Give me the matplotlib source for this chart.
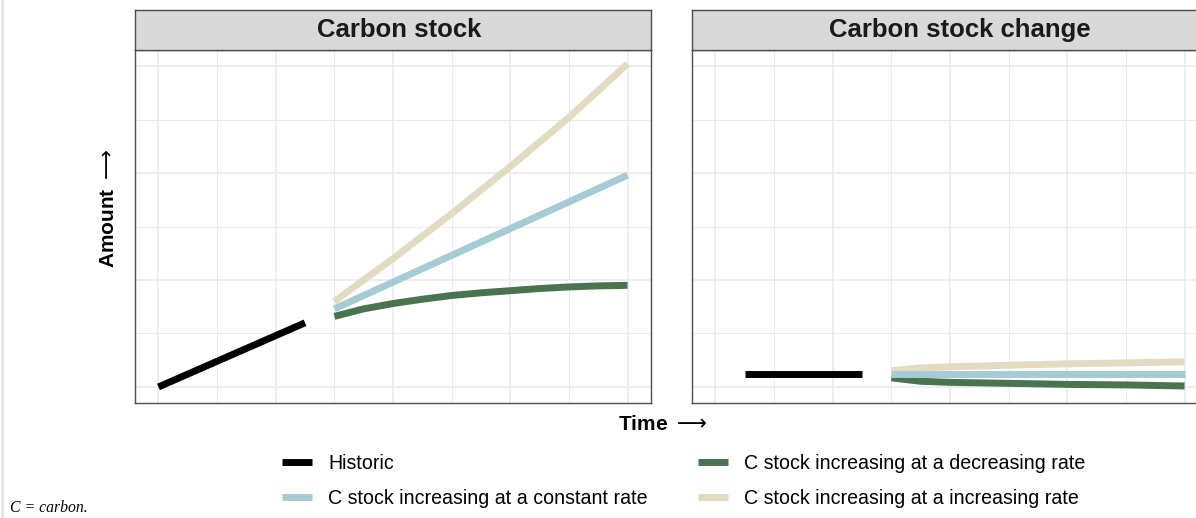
import matplotlib.pyplot as plt
from matplotlib.lines import Line2D

plt.rcParams['font.family'] = ['Liberation Sans', 'DejaVu Sans']

# ---------------- data ----------------
time_hist = [0, 2.5]
stock_hist = [0.0, 0.6]

time_future = [3, 3.5, 4, 4.5, 5, 5.5, 6, 6.5, 7, 7.5, 8]
stock_constant = [0.73, 0.855, 0.98, 1.105, 1.23, 1.355, 1.48, 1.605, 1.73, 1.855, 1.98]
stock_decreasing = [0.66, 0.73, 0.78, 0.82, 0.855, 0.88, 0.90, 0.92, 0.935, 0.945, 0.95]
stock_increasing = [0.80, 1.00, 1.20, 1.41, 1.62, 1.84, 2.06, 2.29, 2.52, 2.77, 3.02]

time_change_hist = [0.5, 2.5]
change_hist = [0.118, 0.118]

time_change = [3, 3.5, 4, 5, 6, 7, 8]
change_constant = [0.118, 0.118, 0.118, 0.118, 0.118, 0.118, 0.118]
change_decreasing = [0.085, 0.053, 0.043, 0.034, 0.024, 0.019, 0.009]
change_increasing = [0.150, 0.178, 0.188, 0.203, 0.216, 0.225, 0.235]

panel_titles = ["Carbon stock", "Carbon stock change"]
legend_labels = ["Historic",
                 "C stock increasing at a constant rate",
                 "C stock increasing at a decreasing rate",
                 "C stock increasing at a increasing rate"]

col_hist = "black"
col_constant = "#a5cbd4"
col_decreasing = "#4a7350"
col_increasing = "#e3dbc1"

# ---------------- layout ----------------
W, H = 1196, 518
fig = plt.figure(figsize=(W / 100, H / 100), dpi=100)


def px(l, t, r, b):
    return [l / W, 1 - b / H, (r - l) / W, (b - t) / H]


ax1 = fig.add_axes(px(135, 50, 651, 403))
ax2 = fig.add_axes(px(692, 50, 1208, 403))
strip1 = fig.add_axes(px(135, 10, 651, 50))
strip2 = fig.add_axes(px(692, 10, 1208, 50))

lw = 5
ax1.plot(time_hist, stock_hist, color=col_hist, lw=lw, solid_capstyle='butt')
ax1.plot(time_future, stock_decreasing, color=col_decreasing, lw=lw, solid_capstyle='butt')
ax1.plot(time_future, stock_increasing, color=col_increasing, lw=lw, solid_capstyle='butt')
ax1.plot(time_future, stock_constant, color=col_constant, lw=lw, solid_capstyle='butt')

ax2.plot(time_change_hist, change_hist, color=col_hist, lw=lw, solid_capstyle='butt')
ax2.plot(time_change, change_decreasing, color=col_decreasing, lw=lw, solid_capstyle='butt')
ax2.plot(time_change, change_increasing, color=col_increasing, lw=lw, solid_capstyle='butt')
ax2.plot(time_change, change_constant, color=col_constant, lw=lw, solid_capstyle='butt')

for ax in [ax1, ax2]:
    ax.set_xlim(-0.4, 8.4)
    ax.set_ylim(-0.15, 3.15)
    ax.set_xticks([0, 2, 4, 6, 8])
    ax.set_xticks([1, 3, 5, 7], minor=True)
    ax.set_yticks([0, 1, 2, 3])
    ax.set_yticks([0.5, 1.5, 2.5], minor=True)
    ax.grid(which='major', color='#ebebeb', lw=1.2)
    ax.grid(which='minor', color='#ebebeb', lw=0.7)
    ax.set_axisbelow(True)
    ax.tick_params(which='both', length=0, labelbottom=False, labelleft=False)
    for s in ax.spines.values():
        s.set_color('#4d4d4d')
        s.set_linewidth(1.0)

for st in [strip1, strip2]:
    st.set_facecolor('#d9d9d9')
    st.set_xticks([])
    st.set_yticks([])
    for s in st.spines.values():
        s.set_color('#4d4d4d')
        s.set_linewidth(1.0)

fig.text(399.5 / W, 1 - 30 / H, panel_titles[0], ha='center', va='center',
         fontsize=18.5, fontweight='bold', color='#1a1a1a')
fig.text(960 / W, 1 - 30 / H, panel_titles[1], ha='center', va='center',
         fontsize=18.5, fontweight='bold', color='#1a1a1a')

# axis titles
fig.text(662.5 / W, 1 - 425 / H, "Time $\\longrightarrow$", ha='center', va='center',
         fontsize=15, fontweight='bold')
fig.text(108 / W, 1 - 208 / H, "Amount $\\longrightarrow$", ha='center', va='center',
         rotation=90, fontsize=15, fontweight='bold')

# legend
handles = [Line2D([], [], color=c, lw=5, solid_capstyle='butt')
           for c in [col_hist, col_constant, col_decreasing, col_increasing]]
fig.legend(handles, legend_labels, ncol=2, loc='upper left',
           bbox_to_anchor=(282 / W, 1 - 454 / H), frameon=False, fontsize=14.1,
           handlelength=1.53, handletextpad=0.82, columnspacing=2.6,
           labelspacing=0.8, borderpad=0, borderaxespad=0)

# caption
fig.text(10 / W, 1 - 508 / H, "C = carbon.", ha='left', va='center',
         fontsize=11.3, style='italic', family='Liberation Serif')

# page edge
fig.add_artist(Line2D([1.5 / W, 1.5 / W], [0, 1], color='#dde9f2', lw=2.2,
                      transform=fig.transFigure))

fig.savefig('out.png', dpi=100)
